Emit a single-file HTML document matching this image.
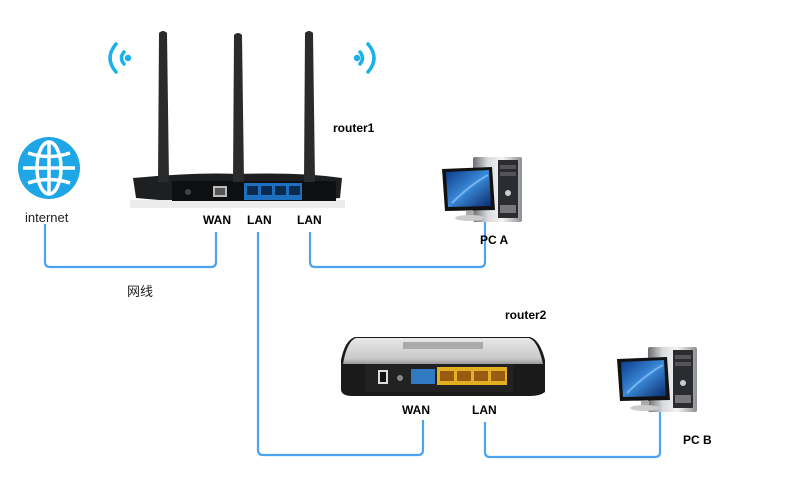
<!DOCTYPE html>
<html><head><meta charset="utf-8"><style>
body{margin:0;background:#fff;width:789px;height:498px;overflow:hidden}
svg{display:block}
text{font-family:"Liberation Sans","Noto Sans CJK SC",sans-serif}
.b{font-weight:bold;font-size:12px;fill:#000}
</style></head><body>
<svg width="789" height="498" viewBox="0 0 789 498">
<defs>
<linearGradient id="tw" x1="0" x2="1"><stop offset="0" stop-color="#6a6e72"/><stop offset=".3" stop-color="#d8dadc"/><stop offset=".6" stop-color="#f4f4f4"/><stop offset="1" stop-color="#8a8e92"/></linearGradient>
<linearGradient id="sc" x1="0" y1="0" x2="1" y2="1"><stop offset="0" stop-color="#0a3a8a"/><stop offset=".5" stop-color="#3a8ad8"/><stop offset="1" stop-color="#0a2a6a"/></linearGradient>
<linearGradient id="r2" x1="0" y1="0" x2="0" y2="1"><stop offset="0" stop-color="#e8e8e8"/><stop offset=".8" stop-color="#c8c8c8"/><stop offset="1" stop-color="#999"/></linearGradient>
<g id="pc">
<rect x="33" y="2" width="49" height="65" rx="2" fill="url(#tw)"/>
<rect x="58" y="5" width="20" height="58" fill="#2a2c30"/>
<rect x="60" y="10" width="16" height="4" fill="#555"/>
<rect x="60" y="17" width="16" height="4" fill="#555"/>
<circle cx="68" cy="38" r="3" fill="#ccc"/>
<rect x="60" y="50" width="16" height="8" fill="#777"/>
<polygon points="2,14 52,12 55,55 5,56" fill="#111"/>
<polygon points="6,17 49,15 51,51 8,52" fill="url(#sc)"/>
<path d="M12,48 Q30,30 48,20" stroke="#9cd0ff" stroke-width="2" fill="none" opacity=".6"/>
<rect x="26" y="56" width="8" height="6" fill="#aaa"/>
<ellipse cx="30" cy="63" rx="15" ry="3" fill="#ccc"/>
</g>
</defs>

<!-- wires -->
<g stroke="#4da3f0" stroke-width="2.2" fill="none">
<path d="M45,224 V262 Q45,267 50,267 H211 Q216,267 216,262 V232"/>
<path d="M258,232 V450 Q258,455 263,455 H418 Q423,455 423,450 V420"/>
<path d="M310,232 V262 Q310,267 315,267 H480 Q485,267 485,262 V222"/>
<path d="M485,422 V452 Q485,457 490,457 H655 Q660,457 660,452 V412"/>
</g>

<!-- globe -->
<circle cx="49" cy="168" r="31" fill="#1ea6e6"/>
<g stroke="#fff" stroke-width="3.5" fill="none">
<ellipse cx="49" cy="168" rx="12" ry="26"/>
<line x1="49" y1="142" x2="49" y2="194"/>
<line x1="23" y1="168" x2="75" y2="168"/>
<path d="M28,153 Q49,160 70,153"/>
<path d="M28,183 Q49,176 70,183"/>
</g>
<text x="25" y="222" font-size="13" fill="#222">internet</text>
<text x="127" y="296" font-size="13" fill="#222">网线</text>

<!-- wifi -->
<g stroke="#1ab0ea" stroke-width="3.5" fill="none" stroke-linecap="round">
<path d="M116,44 Q104,58 116,72"/><path d="M124,52 Q119,58 124,64"/><circle cx="128" cy="58" r="1.5" fill="#1ab0ea"/>
<path d="M368,44 Q380,58 368,72"/><path d="M360,52 Q365,58 360,64"/><circle cx="357" cy="58" r="1.5" fill="#1ab0ea"/>
</g>

<!-- router1 -->
<path d="M133,178 Q200,172 236,174 Q300,172 342,178 L340,198 Q238,208 136,198 Z" fill="#1e1f21"/>
<rect x="130" y="200" width="215" height="8" fill="#ececec"/>
<rect x="172" y="181" width="164" height="20" fill="#0e0f10"/>
<circle cx="188" cy="192" r="3" fill="#444"/>
<rect x="213" y="186" width="14" height="11" fill="#bbb"/><rect x="215" y="188" width="10" height="7" fill="#555"/>
<rect x="244" y="183" width="58" height="17" fill="#1e6fbd"/>
<g fill="#0b2a50"><rect x="247" y="186" width="11" height="9"/><rect x="261" y="186" width="11" height="9"/><rect x="275" y="186" width="11" height="9"/><rect x="289" y="186" width="11" height="9"/></g>
<g fill="#2a2b2d">
<path d="M159,33 Q163,29 167,33 L169,182 L158,182 Z"/>
<path d="M234,35 Q238,31 242,35 L244,182 L233,182 Z"/>
<path d="M305,33 Q309,29 313,33 L315,182 L304,182 Z"/>
</g>
<text x="333" y="132" class="b">router1</text>
<text x="203" y="224" class="b">WAN</text>
<text x="247" y="224" class="b">LAN</text>
<text x="297" y="224" class="b">LAN</text>

<!-- PC A -->
<use href="#pc" transform="translate(440,155)"/>
<text x="480" y="244" class="b">PC A</text>

<!-- router2 -->
<path d="M355,337 L530,337 Q540,340 545,360 L545,392 Q540,396 530,396 L352,396 Q342,396 341,390 L341,360 Q345,340 355,337 Z" fill="#1a1a1a"/>
<path d="M356,338 L529,338 Q538,341 543,364 L343,364 Q347,341 356,338 Z" fill="url(#r2)"/>
<rect x="403" y="342" width="80" height="7" fill="#aaa"/>
<rect x="365" y="364" width="148" height="28" fill="#222"/>
<rect x="378" y="370" width="10" height="14" fill="#ddd"/><rect x="380" y="372" width="6" height="10" fill="#111"/>
<circle cx="400" cy="378" r="3" fill="#888"/>
<rect x="411" y="369" width="24" height="15" fill="#2f7ac0"/>
<rect x="437" y="367" width="70" height="18" fill="#e0b020"/>
<g fill="#9a5a10"><rect x="440" y="371" width="14" height="10"/><rect x="457" y="371" width="14" height="10"/><rect x="474" y="371" width="14" height="10"/><rect x="491" y="371" width="14" height="10"/></g>
<text x="505" y="319" class="b">router2</text>
<text x="402" y="414" class="b">WAN</text>
<text x="472" y="414" class="b">LAN</text>

<!-- PC B -->
<use href="#pc" transform="translate(615,345)"/>
<text x="683" y="444" class="b">PC B</text>
</svg>
</body></html>
